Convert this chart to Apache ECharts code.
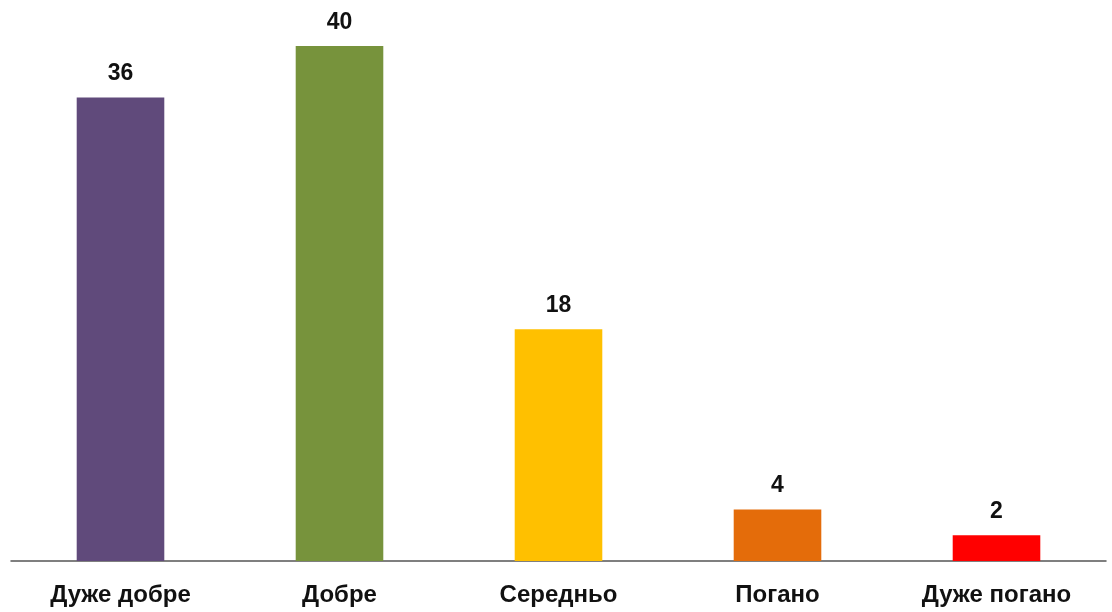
<!DOCTYPE html>
<html>
<head>
<meta charset="utf-8">
<script src="https://cdn.jsdelivr.net/npm/echarts@6/dist/echarts.min.js"></script>
<style>
	html,body{margin:0;padding:0;background:#fff;}
	#chart{width:1112px;height:612px;}
</style>
</head>
<body>
<div id="chart"></div>
<script>
	// категорії та значення
	const categories = ['Дуже добре', 'Добре', 'Середньо', 'Погано', 'Дуже погано']
	const values = [36, 40, 18, 4, 2]
	const colors = ['#604A7B', '#77933C', '#FFC000', '#E46C0A', '#FF0000']

	let chart = echarts.init(document.getElementById('chart'))
	let option = {
		backgroundColor: '#fff',
		grid: {left: 11, right: 6, top: 46, bottom: 51},
		xAxis: {
			type: 'category',
			data: categories,
			axisLine: {lineStyle: {color: '#555', width: 1.5}},
			axisTick: {show: false},
			axisLabel: {
				color: '#111',
				fontFamily: 'Liberation Sans, Arial',
				fontWeight: 'bold',
				fontSize: 24,
				margin: 22
			}
		},
		yAxis: {
			type: 'value',
			min: 0,
			max: 40,
			show: false,
			splitLine: {show: false}
		},
		series: [{
			type: 'bar',
			barWidth: '40%',
			data: values.map((v, i) => ({value: v, itemStyle: {color: colors[i]}})),
			label: {
				show: true,
				position: 'top',
				distance: 12,
				color: '#111',
				fontFamily: 'Liberation Sans, Arial',
				fontWeight: 'bold',
				fontSize: 23
			}
		}]
	}
	chart.setOption(option)
</script>
</body>
</html>
